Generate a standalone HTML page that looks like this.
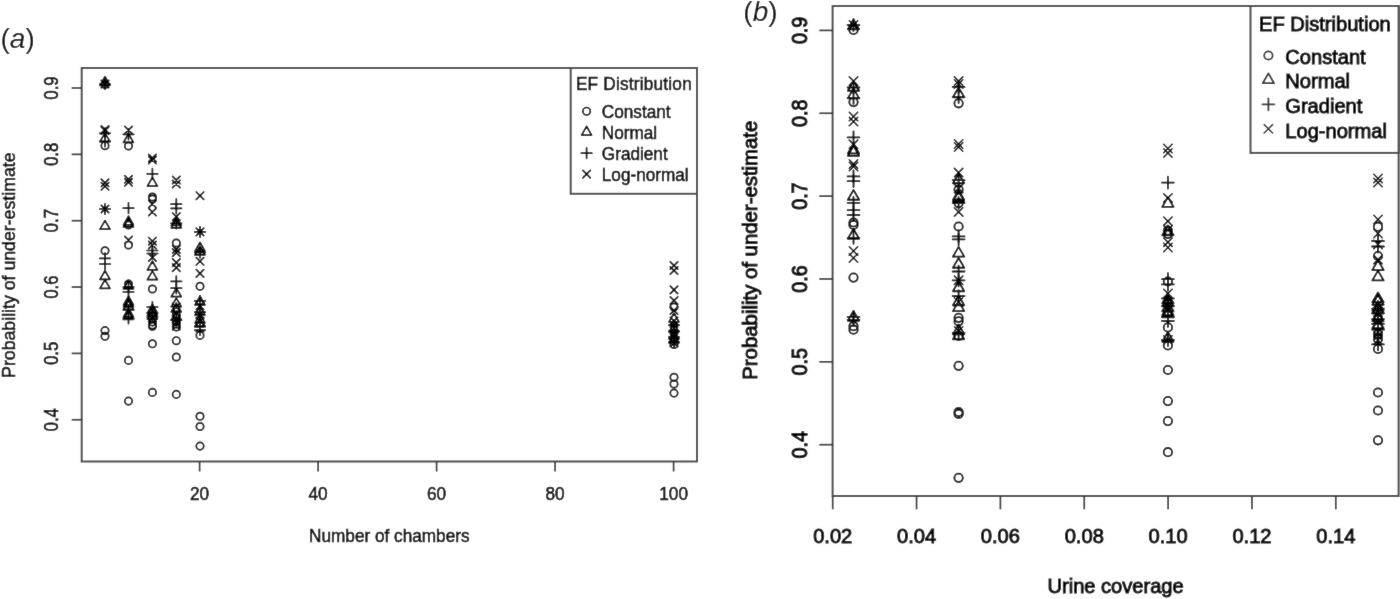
<!DOCTYPE html>
<html><head><meta charset="utf-8"><title>Figure</title>
<style>html,body{margin:0;padding:0;background:#fff;width:1400px;height:599px;overflow:hidden}svg{display:block}text{font-family:"Liberation Sans",sans-serif}</style></head><body>
<svg width="1400" height="599" viewBox="0 0 1400 599">
<defs><filter id="bl" filterUnits="userSpaceOnUse" x="0" y="0" width="1400" height="599"><feConvolveMatrix order="3" kernelMatrix="1 2 1 2 36 2 1 2 1" divisor="48" edgeMode="duplicate"/></filter></defs>
<rect width="1400" height="599" fill="#fff"/>
<g filter="url(#bl)"><rect width="1400" height="599" fill="#fff"/>
<text x="0.5" y="47.7" font-family="Liberation Sans, sans-serif" font-size="28" fill="#000">(<tspan font-style="italic">a</tspan>)</text>
<text x="743.3" y="21.3" font-family="Liberation Sans, sans-serif" font-size="28" fill="#000">(<tspan font-style="italic">b</tspan>)</text>
<rect x="81.7" y="68" width="615.3" height="393.5" fill="none" stroke="#4a4a4a" stroke-width="2.0"/>
<line x1="199.60" y1="461.5" x2="199.60" y2="471.5" stroke="#333" stroke-width="1.7"/>
<line x1="318.10" y1="461.5" x2="318.10" y2="471.5" stroke="#333" stroke-width="1.7"/>
<line x1="436.60" y1="461.5" x2="436.60" y2="471.5" stroke="#333" stroke-width="1.7"/>
<line x1="555.10" y1="461.5" x2="555.10" y2="471.5" stroke="#333" stroke-width="1.7"/>
<line x1="673.60" y1="461.5" x2="673.60" y2="471.5" stroke="#333" stroke-width="1.7"/>
<line x1="71.7" y1="88.00" x2="81.7" y2="88.00" stroke="#333" stroke-width="1.7"/>
<line x1="71.7" y1="154.35" x2="81.7" y2="154.35" stroke="#333" stroke-width="1.7"/>
<line x1="71.7" y1="220.70" x2="81.7" y2="220.70" stroke="#333" stroke-width="1.7"/>
<line x1="71.7" y1="287.05" x2="81.7" y2="287.05" stroke="#333" stroke-width="1.7"/>
<line x1="71.7" y1="353.40" x2="81.7" y2="353.40" stroke="#333" stroke-width="1.7"/>
<line x1="71.7" y1="419.75" x2="81.7" y2="419.75" stroke="#333" stroke-width="1.7"/>
<g font-family="Liberation Sans, sans-serif" font-size="17.2" fill="#000" stroke="#000" stroke-width="0.5"><text transform="translate(199.60 499.50) scale(1 1.03)" text-anchor="middle">20</text>
<text transform="translate(318.10 499.50) scale(1 1.03)" text-anchor="middle">40</text>
<text transform="translate(436.60 499.50) scale(1 1.03)" text-anchor="middle">60</text>
<text transform="translate(555.10 499.50) scale(1 1.03)" text-anchor="middle">80</text>
<text transform="translate(673.60 499.50) scale(1 1.03)" text-anchor="middle">100</text>
<text transform="translate(57.70 88.00) rotate(-90) scale(0.98 1.22)" text-anchor="middle">0.9</text>
<text transform="translate(57.70 154.35) rotate(-90) scale(0.98 1.22)" text-anchor="middle">0.8</text>
<text transform="translate(57.70 220.70) rotate(-90) scale(0.98 1.22)" text-anchor="middle">0.7</text>
<text transform="translate(57.70 287.05) rotate(-90) scale(0.98 1.22)" text-anchor="middle">0.6</text>
<text transform="translate(57.70 353.40) rotate(-90) scale(0.98 1.22)" text-anchor="middle">0.5</text>
<text transform="translate(57.70 419.75) rotate(-90) scale(0.98 1.22)" text-anchor="middle">0.4</text>
<text transform="translate(389.30 542.00) scale(1 1.03)" text-anchor="middle">Number of chambers</text>
<text transform="translate(15.30 265.20) rotate(-90) scale(1.03 1.04)" text-anchor="middle">Probability of under-estimate</text></g>
<rect x="570.7" y="68" width="126.29999999999995" height="125.80000000000001" fill="#fff" stroke="#4a4a4a" stroke-width="2.0"/>
<g font-family="Liberation Sans, sans-serif" font-size="17.2" fill="#000" stroke="#000" stroke-width="0.5"><text textLength="115.8" lengthAdjust="spacing" transform="translate(575.90 89.50) scale(1 1.03)" text-anchor="start">EF Distribution</text>
<text transform="translate(601.80 117.50) scale(1 1.03)" text-anchor="start">Constant</text>
<text transform="translate(601.80 138.70) scale(1 1.03)" text-anchor="start">Normal</text>
<text transform="translate(601.80 159.90) scale(1 1.03)" text-anchor="start">Gradient</text>
<text transform="translate(601.80 181.10) scale(1 1.03)" text-anchor="start">Log-normal</text></g>
<circle cx="586.60" cy="111.20" r="3.70" fill="none" stroke="#000" stroke-width="1.7"/>
<path d="M586.60 126.42L591.58 135.05L581.62 135.05Z" fill="none" stroke="#000" stroke-width="1.7" stroke-linejoin="round"/>
<path d="M581.37 153.14H591.83M586.60 147.91V158.37" stroke="#000" stroke-width="1.7" stroke-linecap="round"/>
<path d="M582.90 170.41L590.30 177.81M582.90 177.81L590.30 170.41" stroke="#000" stroke-width="1.70" stroke-linecap="round"/>
<path d="M101.30 80.30L108.70 87.70M101.30 87.70L108.70 80.30" stroke="#000" stroke-width="1.70" stroke-linecap="round"/>
<path d="M99.77 84.00H110.23M105.00 78.77V89.23" stroke="#000" stroke-width="1.7" stroke-linecap="round"/>
<path d="M105.00 76.75L109.98 85.38L100.02 85.38Z" fill="none" stroke="#000" stroke-width="1.7" stroke-linejoin="round"/>
<circle cx="105.00" cy="84.50" r="3.70" fill="none" stroke="#000" stroke-width="1.7"/>
<path d="M101.30 125.80L108.70 133.20M101.30 133.20L108.70 125.80" stroke="#000" stroke-width="1.70" stroke-linecap="round"/>
<path d="M101.30 126.80L108.70 134.20M101.30 134.20L108.70 126.80" stroke="#000" stroke-width="1.70" stroke-linecap="round"/>
<path d="M99.77 133.30H110.23M105.00 128.07V138.53" stroke="#000" stroke-width="1.7" stroke-linecap="round"/>
<path d="M105.00 133.05L109.98 141.68L100.02 141.68Z" fill="none" stroke="#000" stroke-width="1.7" stroke-linejoin="round"/>
<path d="M99.77 141.30H110.23M105.00 136.07V146.53" stroke="#000" stroke-width="1.7" stroke-linecap="round"/>
<circle cx="105.00" cy="145.70" r="3.70" fill="none" stroke="#000" stroke-width="1.7"/>
<path d="M101.30 179.10L108.70 186.50M101.30 186.50L108.70 179.10" stroke="#000" stroke-width="1.70" stroke-linecap="round"/>
<path d="M101.30 182.60L108.70 190.00M101.30 190.00L108.70 182.60" stroke="#000" stroke-width="1.70" stroke-linecap="round"/>
<path d="M101.30 205.30L108.70 212.70M101.30 212.70L108.70 205.30" stroke="#000" stroke-width="1.70" stroke-linecap="round"/>
<path d="M99.77 209.00H110.23M105.00 203.77V214.23" stroke="#000" stroke-width="1.7" stroke-linecap="round"/>
<path d="M105.00 220.55L109.98 229.18L100.02 229.18Z" fill="none" stroke="#000" stroke-width="1.7" stroke-linejoin="round"/>
<circle cx="105.00" cy="250.80" r="3.70" fill="none" stroke="#000" stroke-width="1.7"/>
<path d="M99.77 258.30H110.23M105.00 253.07V263.53" stroke="#000" stroke-width="1.7" stroke-linecap="round"/>
<path d="M99.77 264.00H110.23M105.00 258.77V269.23" stroke="#000" stroke-width="1.7" stroke-linecap="round"/>
<path d="M105.00 270.75L109.98 279.38L100.02 279.38Z" fill="none" stroke="#000" stroke-width="1.7" stroke-linejoin="round"/>
<path d="M105.00 279.75L109.98 288.38L100.02 288.38Z" fill="none" stroke="#000" stroke-width="1.7" stroke-linejoin="round"/>
<circle cx="105.00" cy="330.60" r="3.70" fill="none" stroke="#000" stroke-width="1.7"/>
<circle cx="105.00" cy="336.30" r="3.70" fill="none" stroke="#000" stroke-width="1.7"/>
<path d="M124.80 126.30L132.20 133.70M124.80 133.70L132.20 126.30" stroke="#000" stroke-width="1.70" stroke-linecap="round"/>
<path d="M123.27 134.30H133.73M128.50 129.07V139.53" stroke="#000" stroke-width="1.7" stroke-linecap="round"/>
<path d="M128.50 133.75L133.48 142.38L123.52 142.38Z" fill="none" stroke="#000" stroke-width="1.7" stroke-linejoin="round"/>
<circle cx="128.50" cy="146.00" r="3.70" fill="none" stroke="#000" stroke-width="1.7"/>
<path d="M124.80 175.60L132.20 183.00M124.80 183.00L132.20 175.60" stroke="#000" stroke-width="1.70" stroke-linecap="round"/>
<path d="M124.80 178.60L132.20 186.00M124.80 186.00L132.20 178.60" stroke="#000" stroke-width="1.70" stroke-linecap="round"/>
<path d="M123.27 208.10H133.73M128.50 202.87V213.33" stroke="#000" stroke-width="1.7" stroke-linecap="round"/>
<path d="M128.50 216.25L133.48 224.88L123.52 224.88Z" fill="none" stroke="#000" stroke-width="1.7" stroke-linejoin="round"/>
<path d="M128.50 218.25L133.48 226.88L123.52 226.88Z" fill="none" stroke="#000" stroke-width="1.7" stroke-linejoin="round"/>
<circle cx="128.50" cy="225.00" r="3.70" fill="none" stroke="#000" stroke-width="1.7"/>
<path d="M124.80 236.30L132.20 243.70M124.80 243.70L132.20 236.30" stroke="#000" stroke-width="1.70" stroke-linecap="round"/>
<circle cx="128.50" cy="245.00" r="3.70" fill="none" stroke="#000" stroke-width="1.7"/>
<circle cx="128.50" cy="284.00" r="3.70" fill="none" stroke="#000" stroke-width="1.7"/>
<path d="M128.50 280.25L133.48 288.88L123.52 288.88Z" fill="none" stroke="#000" stroke-width="1.7" stroke-linejoin="round"/>
<path d="M123.27 287.00H133.73M128.50 281.77V292.23" stroke="#000" stroke-width="1.7" stroke-linecap="round"/>
<path d="M123.27 292.00H133.73M128.50 286.77V297.23" stroke="#000" stroke-width="1.7" stroke-linecap="round"/>
<path d="M128.50 296.25L133.48 304.88L123.52 304.88Z" fill="none" stroke="#000" stroke-width="1.7" stroke-linejoin="round"/>
<path d="M128.50 298.25L133.48 306.88L123.52 306.88Z" fill="none" stroke="#000" stroke-width="1.7" stroke-linejoin="round"/>
<path d="M128.50 300.75L133.48 309.38L123.52 309.38Z" fill="none" stroke="#000" stroke-width="1.7" stroke-linejoin="round"/>
<path d="M123.27 310.00H133.73M128.50 304.77V315.23" stroke="#000" stroke-width="1.7" stroke-linecap="round"/>
<path d="M128.50 308.25L133.48 316.88L123.52 316.88Z" fill="none" stroke="#000" stroke-width="1.7" stroke-linejoin="round"/>
<path d="M128.50 310.75L133.48 319.38L123.52 319.38Z" fill="none" stroke="#000" stroke-width="1.7" stroke-linejoin="round"/>
<path d="M123.27 318.30H133.73M128.50 313.07V323.53" stroke="#000" stroke-width="1.7" stroke-linecap="round"/>
<circle cx="128.50" cy="360.40" r="3.70" fill="none" stroke="#000" stroke-width="1.7"/>
<circle cx="128.50" cy="401.10" r="3.70" fill="none" stroke="#000" stroke-width="1.7"/>
<path d="M148.70 154.30L156.10 161.70M148.70 161.70L156.10 154.30" stroke="#000" stroke-width="1.70" stroke-linecap="round"/>
<path d="M148.70 156.30L156.10 163.70M148.70 163.70L156.10 156.30" stroke="#000" stroke-width="1.70" stroke-linecap="round"/>
<path d="M147.17 173.80H157.63M152.40 168.57V179.03" stroke="#000" stroke-width="1.7" stroke-linecap="round"/>
<path d="M152.40 177.45L157.38 186.08L147.42 186.08Z" fill="none" stroke="#000" stroke-width="1.7" stroke-linejoin="round"/>
<circle cx="152.40" cy="197.00" r="3.70" fill="none" stroke="#000" stroke-width="1.7"/>
<circle cx="152.40" cy="199.00" r="3.70" fill="none" stroke="#000" stroke-width="1.7"/>
<path d="M148.70 200.30L156.10 207.70M148.70 207.70L156.10 200.30" stroke="#000" stroke-width="1.70" stroke-linecap="round"/>
<path d="M148.70 208.30L156.10 215.70M148.70 215.70L156.10 208.30" stroke="#000" stroke-width="1.70" stroke-linecap="round"/>
<path d="M148.70 237.50L156.10 244.90M148.70 244.90L156.10 237.50" stroke="#000" stroke-width="1.70" stroke-linecap="round"/>
<path d="M148.70 241.30L156.10 248.70M148.70 248.70L156.10 241.30" stroke="#000" stroke-width="1.70" stroke-linecap="round"/>
<path d="M147.17 250.50H157.63M152.40 245.27V255.73" stroke="#000" stroke-width="1.7" stroke-linecap="round"/>
<path d="M147.17 253.50H157.63M152.40 248.27V258.73" stroke="#000" stroke-width="1.7" stroke-linecap="round"/>
<path d="M148.70 253.80L156.10 261.20M148.70 261.20L156.10 253.80" stroke="#000" stroke-width="1.70" stroke-linecap="round"/>
<path d="M152.40 261.25L157.38 269.88L147.42 269.88Z" fill="none" stroke="#000" stroke-width="1.7" stroke-linejoin="round"/>
<path d="M152.40 271.05L157.38 279.68L147.42 279.68Z" fill="none" stroke="#000" stroke-width="1.7" stroke-linejoin="round"/>
<circle cx="152.40" cy="289.00" r="3.70" fill="none" stroke="#000" stroke-width="1.7"/>
<path d="M147.17 307.00H157.63M152.40 301.77V312.23" stroke="#000" stroke-width="1.7" stroke-linecap="round"/>
<path d="M152.40 304.25L157.38 312.88L147.42 312.88Z" fill="none" stroke="#000" stroke-width="1.7" stroke-linejoin="round"/>
<path d="M152.40 306.85L157.38 315.48L147.42 315.48Z" fill="none" stroke="#000" stroke-width="1.7" stroke-linejoin="round"/>
<path d="M147.17 313.00H157.63M152.40 307.77V318.23" stroke="#000" stroke-width="1.7" stroke-linecap="round"/>
<path d="M152.40 310.55L157.38 319.18L147.42 319.18Z" fill="none" stroke="#000" stroke-width="1.7" stroke-linejoin="round"/>
<path d="M147.17 317.00H157.63M152.40 311.77V322.23" stroke="#000" stroke-width="1.7" stroke-linecap="round"/>
<path d="M148.70 314.30L156.10 321.70M148.70 321.70L156.10 314.30" stroke="#000" stroke-width="1.70" stroke-linecap="round"/>
<circle cx="152.40" cy="322.00" r="3.70" fill="none" stroke="#000" stroke-width="1.7"/>
<circle cx="152.40" cy="325.00" r="3.70" fill="none" stroke="#000" stroke-width="1.7"/>
<circle cx="152.40" cy="326.30" r="3.70" fill="none" stroke="#000" stroke-width="1.7"/>
<circle cx="152.40" cy="343.80" r="3.70" fill="none" stroke="#000" stroke-width="1.7"/>
<circle cx="152.40" cy="392.40" r="3.70" fill="none" stroke="#000" stroke-width="1.7"/>
<path d="M172.60 176.30L180.00 183.70M172.60 183.70L180.00 176.30" stroke="#000" stroke-width="1.70" stroke-linecap="round"/>
<path d="M172.60 180.30L180.00 187.70M172.60 187.70L180.00 180.30" stroke="#000" stroke-width="1.70" stroke-linecap="round"/>
<path d="M171.07 204.20H181.53M176.30 198.97V209.43" stroke="#000" stroke-width="1.7" stroke-linecap="round"/>
<path d="M171.07 208.30H181.53M176.30 203.07V213.53" stroke="#000" stroke-width="1.7" stroke-linecap="round"/>
<path d="M172.60 213.00L180.00 220.40M172.60 220.40L180.00 213.00" stroke="#000" stroke-width="1.70" stroke-linecap="round"/>
<path d="M176.30 216.75L181.28 225.38L171.32 225.38Z" fill="none" stroke="#000" stroke-width="1.7" stroke-linejoin="round"/>
<path d="M171.07 223.30H181.53M176.30 218.07V228.53" stroke="#000" stroke-width="1.7" stroke-linecap="round"/>
<path d="M176.30 219.25L181.28 227.88L171.32 227.88Z" fill="none" stroke="#000" stroke-width="1.7" stroke-linejoin="round"/>
<circle cx="176.30" cy="243.00" r="3.70" fill="none" stroke="#000" stroke-width="1.7"/>
<path d="M172.60 245.70L180.00 253.10M172.60 253.10L180.00 245.70" stroke="#000" stroke-width="1.70" stroke-linecap="round"/>
<path d="M172.60 248.90L180.00 256.30M172.60 256.30L180.00 248.90" stroke="#000" stroke-width="1.70" stroke-linecap="round"/>
<path d="M172.60 258.90L180.00 266.30M172.60 266.30L180.00 258.90" stroke="#000" stroke-width="1.70" stroke-linecap="round"/>
<path d="M172.60 263.90L180.00 271.30M172.60 271.30L180.00 263.90" stroke="#000" stroke-width="1.70" stroke-linecap="round"/>
<path d="M171.07 281.30H181.53M176.30 276.07V286.53" stroke="#000" stroke-width="1.7" stroke-linecap="round"/>
<path d="M171.07 288.20H181.53M176.30 282.97V293.43" stroke="#000" stroke-width="1.7" stroke-linecap="round"/>
<path d="M176.30 288.05L181.28 296.68L171.32 296.68Z" fill="none" stroke="#000" stroke-width="1.7" stroke-linejoin="round"/>
<path d="M176.30 298.05L181.28 306.68L171.32 306.68Z" fill="none" stroke="#000" stroke-width="1.7" stroke-linejoin="round"/>
<path d="M172.60 303.30L180.00 310.70M172.60 310.70L180.00 303.30" stroke="#000" stroke-width="1.70" stroke-linecap="round"/>
<path d="M176.30 303.25L181.28 311.88L171.32 311.88Z" fill="none" stroke="#000" stroke-width="1.7" stroke-linejoin="round"/>
<path d="M172.60 309.30L180.00 316.70M172.60 316.70L180.00 309.30" stroke="#000" stroke-width="1.70" stroke-linecap="round"/>
<circle cx="176.30" cy="315.00" r="3.70" fill="none" stroke="#000" stroke-width="1.7"/>
<path d="M176.30 311.25L181.28 319.88L171.32 319.88Z" fill="none" stroke="#000" stroke-width="1.7" stroke-linejoin="round"/>
<path d="M172.60 315.30L180.00 322.70M172.60 322.70L180.00 315.30" stroke="#000" stroke-width="1.70" stroke-linecap="round"/>
<path d="M171.07 320.00H181.53M176.30 314.77V325.23" stroke="#000" stroke-width="1.7" stroke-linecap="round"/>
<circle cx="176.30" cy="321.00" r="3.70" fill="none" stroke="#000" stroke-width="1.7"/>
<path d="M172.60 319.30L180.00 326.70M172.60 326.70L180.00 319.30" stroke="#000" stroke-width="1.70" stroke-linecap="round"/>
<circle cx="176.30" cy="324.00" r="3.70" fill="none" stroke="#000" stroke-width="1.7"/>
<path d="M172.60 322.30L180.00 329.70M172.60 329.70L180.00 322.30" stroke="#000" stroke-width="1.70" stroke-linecap="round"/>
<circle cx="176.30" cy="327.00" r="3.70" fill="none" stroke="#000" stroke-width="1.7"/>
<circle cx="176.30" cy="340.70" r="3.70" fill="none" stroke="#000" stroke-width="1.7"/>
<circle cx="176.30" cy="357.00" r="3.70" fill="none" stroke="#000" stroke-width="1.7"/>
<circle cx="176.30" cy="394.40" r="3.70" fill="none" stroke="#000" stroke-width="1.7"/>
<path d="M196.30 192.00L203.70 199.40M196.30 199.40L203.70 192.00" stroke="#000" stroke-width="1.70" stroke-linecap="round"/>
<path d="M196.30 228.20L203.70 235.60M196.30 235.60L203.70 228.20" stroke="#000" stroke-width="1.70" stroke-linecap="round"/>
<path d="M194.77 231.90H205.23M200.00 226.67V237.13" stroke="#000" stroke-width="1.7" stroke-linecap="round"/>
<path d="M200.00 242.45L204.98 251.08L195.02 251.08Z" fill="none" stroke="#000" stroke-width="1.7" stroke-linejoin="round"/>
<path d="M200.00 246.25L204.98 254.88L195.02 254.88Z" fill="none" stroke="#000" stroke-width="1.7" stroke-linejoin="round"/>
<path d="M194.77 252.60H205.23M200.00 247.37V257.83" stroke="#000" stroke-width="1.7" stroke-linecap="round"/>
<path d="M196.30 257.60L203.70 265.00M196.30 265.00L203.70 257.60" stroke="#000" stroke-width="1.70" stroke-linecap="round"/>
<path d="M196.30 269.70L203.70 277.10M196.30 277.10L203.70 269.70" stroke="#000" stroke-width="1.70" stroke-linecap="round"/>
<circle cx="200.00" cy="286.30" r="3.70" fill="none" stroke="#000" stroke-width="1.7"/>
<path d="M194.77 300.80H205.23M200.00 295.57V306.03" stroke="#000" stroke-width="1.7" stroke-linecap="round"/>
<path d="M200.00 296.25L204.98 304.88L195.02 304.88Z" fill="none" stroke="#000" stroke-width="1.7" stroke-linejoin="round"/>
<path d="M196.30 302.10L203.70 309.50M196.30 309.50L203.70 302.10" stroke="#000" stroke-width="1.70" stroke-linecap="round"/>
<path d="M194.77 312.00H205.23M200.00 306.77V317.23" stroke="#000" stroke-width="1.7" stroke-linecap="round"/>
<path d="M200.00 306.25L204.98 314.88L195.02 314.88Z" fill="none" stroke="#000" stroke-width="1.7" stroke-linejoin="round"/>
<path d="M196.30 311.30L203.70 318.70M196.30 318.70L203.70 311.30" stroke="#000" stroke-width="1.70" stroke-linecap="round"/>
<path d="M200.00 314.25L204.98 322.88L195.02 322.88Z" fill="none" stroke="#000" stroke-width="1.7" stroke-linejoin="round"/>
<path d="M196.30 317.30L203.70 324.70M196.30 324.70L203.70 317.30" stroke="#000" stroke-width="1.70" stroke-linecap="round"/>
<path d="M194.77 326.00H205.23M200.00 320.77V331.23" stroke="#000" stroke-width="1.7" stroke-linecap="round"/>
<path d="M196.30 324.30L203.70 331.70M196.30 331.70L203.70 324.30" stroke="#000" stroke-width="1.70" stroke-linecap="round"/>
<path d="M194.77 330.00H205.23M200.00 324.77V335.23" stroke="#000" stroke-width="1.7" stroke-linecap="round"/>
<path d="M200.00 318.25L204.98 326.88L195.02 326.88Z" fill="none" stroke="#000" stroke-width="1.7" stroke-linejoin="round"/>
<circle cx="200.00" cy="335.40" r="3.70" fill="none" stroke="#000" stroke-width="1.7"/>
<circle cx="200.00" cy="416.30" r="3.70" fill="none" stroke="#000" stroke-width="1.7"/>
<circle cx="200.00" cy="426.50" r="3.70" fill="none" stroke="#000" stroke-width="1.7"/>
<circle cx="200.00" cy="446.10" r="3.70" fill="none" stroke="#000" stroke-width="1.7"/>
<path d="M670.30 261.80L677.70 269.20M670.30 269.20L677.70 261.80" stroke="#000" stroke-width="1.70" stroke-linecap="round"/>
<path d="M670.30 266.80L677.70 274.20M670.30 274.20L677.70 266.80" stroke="#000" stroke-width="1.70" stroke-linecap="round"/>
<path d="M670.30 286.20L677.70 293.60M670.30 293.60L677.70 286.20" stroke="#000" stroke-width="1.70" stroke-linecap="round"/>
<path d="M670.30 296.80L677.70 304.20M670.30 304.20L677.70 296.80" stroke="#000" stroke-width="1.70" stroke-linecap="round"/>
<circle cx="674.00" cy="307.00" r="3.70" fill="none" stroke="#000" stroke-width="1.7"/>
<path d="M670.30 306.80L677.70 314.20M670.30 314.20L677.70 306.80" stroke="#000" stroke-width="1.70" stroke-linecap="round"/>
<path d="M674.00 313.25L678.98 321.88L669.02 321.88Z" fill="none" stroke="#000" stroke-width="1.7" stroke-linejoin="round"/>
<path d="M670.30 317.30L677.70 324.70M670.30 324.70L677.70 317.30" stroke="#000" stroke-width="1.70" stroke-linecap="round"/>
<path d="M668.77 325.00H679.23M674.00 319.77V330.23" stroke="#000" stroke-width="1.7" stroke-linecap="round"/>
<circle cx="674.00" cy="326.00" r="3.70" fill="none" stroke="#000" stroke-width="1.7"/>
<path d="M670.30 324.30L677.70 331.70M670.30 331.70L677.70 324.30" stroke="#000" stroke-width="1.70" stroke-linecap="round"/>
<path d="M674.00 323.25L678.98 331.88L669.02 331.88Z" fill="none" stroke="#000" stroke-width="1.7" stroke-linejoin="round"/>
<path d="M668.77 331.00H679.23M674.00 325.77V336.23" stroke="#000" stroke-width="1.7" stroke-linecap="round"/>
<circle cx="674.00" cy="333.00" r="3.70" fill="none" stroke="#000" stroke-width="1.7"/>
<path d="M670.30 331.30L677.70 338.70M670.30 338.70L677.70 331.30" stroke="#000" stroke-width="1.70" stroke-linecap="round"/>
<path d="M674.00 330.25L678.98 338.88L669.02 338.88Z" fill="none" stroke="#000" stroke-width="1.7" stroke-linejoin="round"/>
<path d="M668.77 337.00H679.23M674.00 331.77V342.23" stroke="#000" stroke-width="1.7" stroke-linecap="round"/>
<circle cx="674.00" cy="339.00" r="3.70" fill="none" stroke="#000" stroke-width="1.7"/>
<path d="M674.00 334.25L678.98 342.88L669.02 342.88Z" fill="none" stroke="#000" stroke-width="1.7" stroke-linejoin="round"/>
<path d="M668.77 342.00H679.23M674.00 336.77V347.23" stroke="#000" stroke-width="1.7" stroke-linecap="round"/>
<path d="M670.30 339.30L677.70 346.70M670.30 346.70L677.70 339.30" stroke="#000" stroke-width="1.70" stroke-linecap="round"/>
<circle cx="674.00" cy="344.50" r="3.70" fill="none" stroke="#000" stroke-width="1.7"/>
<circle cx="674.00" cy="377.30" r="3.70" fill="none" stroke="#000" stroke-width="1.7"/>
<circle cx="674.00" cy="384.00" r="3.70" fill="none" stroke="#000" stroke-width="1.7"/>
<circle cx="674.00" cy="393.10" r="3.70" fill="none" stroke="#000" stroke-width="1.7"/>
<rect x="832.6" y="6" width="565.9999999999999" height="490" fill="none" stroke="#4a4a4a" stroke-width="2.0"/>
<line x1="832.70" y1="496" x2="832.70" y2="509.3" stroke="#333" stroke-width="1.7"/>
<line x1="916.55" y1="496" x2="916.55" y2="509.3" stroke="#333" stroke-width="1.7"/>
<line x1="1000.40" y1="496" x2="1000.40" y2="509.3" stroke="#333" stroke-width="1.7"/>
<line x1="1084.25" y1="496" x2="1084.25" y2="509.3" stroke="#333" stroke-width="1.7"/>
<line x1="1168.10" y1="496" x2="1168.10" y2="509.3" stroke="#333" stroke-width="1.7"/>
<line x1="1251.95" y1="496" x2="1251.95" y2="509.3" stroke="#333" stroke-width="1.7"/>
<line x1="1335.80" y1="496" x2="1335.80" y2="509.3" stroke="#333" stroke-width="1.7"/>
<line x1="819.3000000000001" y1="30.40" x2="832.6" y2="30.40" stroke="#333" stroke-width="1.7"/>
<line x1="819.3000000000001" y1="113.26" x2="832.6" y2="113.26" stroke="#333" stroke-width="1.7"/>
<line x1="819.3000000000001" y1="196.12" x2="832.6" y2="196.12" stroke="#333" stroke-width="1.7"/>
<line x1="819.3000000000001" y1="278.98" x2="832.6" y2="278.98" stroke="#333" stroke-width="1.7"/>
<line x1="819.3000000000001" y1="361.84" x2="832.6" y2="361.84" stroke="#333" stroke-width="1.7"/>
<line x1="819.3000000000001" y1="444.70" x2="832.6" y2="444.70" stroke="#333" stroke-width="1.7"/>
<g font-family="Liberation Sans, sans-serif" font-size="20.1" fill="#000" stroke="#000" stroke-width="1.0"><text transform="translate(832.70 543.20) scale(1 1.03)" text-anchor="middle">0.02</text>
<text transform="translate(916.55 543.20) scale(1 1.03)" text-anchor="middle">0.04</text>
<text transform="translate(1000.40 543.20) scale(1 1.03)" text-anchor="middle">0.06</text>
<text transform="translate(1084.25 543.20) scale(1 1.03)" text-anchor="middle">0.08</text>
<text transform="translate(1168.10 543.20) scale(1 1.03)" text-anchor="middle">0.10</text>
<text transform="translate(1251.95 543.20) scale(1 1.03)" text-anchor="middle">0.12</text>
<text transform="translate(1335.80 543.20) scale(1 1.03)" text-anchor="middle">0.14</text>
<text transform="translate(806.90 30.40) rotate(-90) scale(0.98 1.12)" text-anchor="middle">0.9</text>
<text transform="translate(806.90 113.26) rotate(-90) scale(0.98 1.12)" text-anchor="middle">0.8</text>
<text transform="translate(806.90 196.12) rotate(-90) scale(0.98 1.12)" text-anchor="middle">0.7</text>
<text transform="translate(806.90 278.98) rotate(-90) scale(0.98 1.12)" text-anchor="middle">0.6</text>
<text transform="translate(806.90 361.84) rotate(-90) scale(0.98 1.12)" text-anchor="middle">0.5</text>
<text transform="translate(806.90 444.70) rotate(-90) scale(0.98 1.12)" text-anchor="middle">0.4</text>
<text transform="translate(1115.60 592.80) scale(1 1.03)" text-anchor="middle">Urine coverage</text>
<text transform="translate(756.60 250.20) rotate(-90) scale(1.013 1.04)" text-anchor="middle">Probability of under-estimate</text></g>
<rect x="1250.5" y="6" width="148.0999999999999" height="146.9" fill="#fff" stroke="#4a4a4a" stroke-width="2.0"/>
<g font-family="Liberation Sans, sans-serif" font-size="20.1" fill="#000" stroke="#000" stroke-width="1.0"><text transform="translate(1259.00 30.80) scale(1 1.03)" text-anchor="start">EF Distribution</text>
<text transform="translate(1285.30 63.80) scale(1 1.03)" text-anchor="start">Constant</text>
<text transform="translate(1285.30 88.40) scale(1 1.03)" text-anchor="start">Normal</text>
<text transform="translate(1285.30 113.00) scale(1 1.03)" text-anchor="start">Gradient</text>
<text transform="translate(1285.30 137.60) scale(1 1.03)" text-anchor="start">Log-normal</text></g>
<circle cx="1268.40" cy="55.50" r="4.20" fill="none" stroke="#333" stroke-width="1.8"/>
<path d="M1268.40 73.40L1274.06 83.20L1262.74 83.20Z" fill="none" stroke="#333" stroke-width="1.8" stroke-linejoin="round"/>
<path d="M1262.46 104.36H1274.34M1268.40 98.42V110.30" stroke="#333" stroke-width="1.8" stroke-linecap="round"/>
<path d="M1264.20 124.59L1272.60 132.99M1264.20 132.99L1272.60 124.59" stroke="#333" stroke-width="1.53" stroke-linecap="round"/>
<path d="M849.30 20.80L857.70 29.20M849.30 29.20L857.70 20.80" stroke="#000" stroke-width="1.53" stroke-linecap="round"/>
<path d="M847.56 25.00H859.44M853.50 19.06V30.94" stroke="#000" stroke-width="1.8" stroke-linecap="round"/>
<path d="M853.50 19.47L859.16 29.27L847.84 29.27Z" fill="none" stroke="#000" stroke-width="1.8" stroke-linejoin="round"/>
<circle cx="853.50" cy="30.00" r="4.20" fill="none" stroke="#000" stroke-width="1.8"/>
<path d="M849.30 76.90L857.70 85.30M849.30 85.30L857.70 76.90" stroke="#000" stroke-width="1.53" stroke-linecap="round"/>
<path d="M853.50 80.97L859.16 90.77L847.84 90.77Z" fill="none" stroke="#000" stroke-width="1.8" stroke-linejoin="round"/>
<path d="M847.56 87.50H859.44M853.50 81.56V93.44" stroke="#000" stroke-width="1.8" stroke-linecap="round"/>
<path d="M853.50 88.57L859.16 98.37L847.84 98.37Z" fill="none" stroke="#000" stroke-width="1.8" stroke-linejoin="round"/>
<path d="M847.56 98.00H859.44M853.50 92.06V103.94" stroke="#000" stroke-width="1.8" stroke-linecap="round"/>
<circle cx="853.50" cy="102.10" r="4.20" fill="none" stroke="#000" stroke-width="1.8"/>
<path d="M849.30 112.30L857.70 120.70M849.30 120.70L857.70 112.30" stroke="#000" stroke-width="1.53" stroke-linecap="round"/>
<path d="M849.30 117.30L857.70 125.70M849.30 125.70L857.70 117.30" stroke="#000" stroke-width="1.53" stroke-linecap="round"/>
<path d="M847.56 137.30H859.44M853.50 131.36V143.24" stroke="#000" stroke-width="1.8" stroke-linecap="round"/>
<path d="M849.30 140.10L857.70 148.50M849.30 148.50L857.70 140.10" stroke="#000" stroke-width="1.53" stroke-linecap="round"/>
<path d="M853.50 143.57L859.16 153.37L847.84 153.37Z" fill="none" stroke="#000" stroke-width="1.8" stroke-linejoin="round"/>
<path d="M853.50 145.97L859.16 155.77L847.84 155.77Z" fill="none" stroke="#000" stroke-width="1.8" stroke-linejoin="round"/>
<path d="M849.30 159.80L857.70 168.20M849.30 168.20L857.70 159.80" stroke="#000" stroke-width="1.53" stroke-linecap="round"/>
<path d="M849.30 162.30L857.70 170.70M849.30 170.70L857.70 162.30" stroke="#000" stroke-width="1.53" stroke-linecap="round"/>
<path d="M847.56 176.40H859.44M853.50 170.46V182.34" stroke="#000" stroke-width="1.8" stroke-linecap="round"/>
<path d="M847.56 181.10H859.44M853.50 175.16V187.04" stroke="#000" stroke-width="1.8" stroke-linecap="round"/>
<path d="M853.50 189.97L859.16 199.77L847.84 199.77Z" fill="none" stroke="#000" stroke-width="1.8" stroke-linejoin="round"/>
<path d="M847.56 202.80H859.44M853.50 196.86V208.74" stroke="#000" stroke-width="1.8" stroke-linecap="round"/>
<path d="M847.56 210.10H859.44M853.50 204.16V216.04" stroke="#000" stroke-width="1.8" stroke-linecap="round"/>
<path d="M847.56 215.00H859.44M853.50 209.06V220.94" stroke="#000" stroke-width="1.8" stroke-linecap="round"/>
<circle cx="853.50" cy="222.50" r="4.20" fill="none" stroke="#000" stroke-width="1.8"/>
<circle cx="853.50" cy="225.00" r="4.20" fill="none" stroke="#000" stroke-width="1.8"/>
<path d="M853.50 228.97L859.16 238.77L847.84 238.77Z" fill="none" stroke="#000" stroke-width="1.8" stroke-linejoin="round"/>
<path d="M847.56 237.80H859.44M853.50 231.86V243.74" stroke="#000" stroke-width="1.8" stroke-linecap="round"/>
<path d="M849.30 246.80L857.70 255.20M849.30 255.20L857.70 246.80" stroke="#000" stroke-width="1.53" stroke-linecap="round"/>
<path d="M849.30 253.80L857.70 262.20M849.30 262.20L857.70 253.80" stroke="#000" stroke-width="1.53" stroke-linecap="round"/>
<circle cx="853.50" cy="277.60" r="4.20" fill="none" stroke="#000" stroke-width="1.8"/>
<path d="M853.50 310.97L859.16 320.77L847.84 320.77Z" fill="none" stroke="#000" stroke-width="1.8" stroke-linejoin="round"/>
<path d="M847.56 316.90H859.44M853.50 310.96V322.84" stroke="#000" stroke-width="1.8" stroke-linecap="round"/>
<path d="M847.56 319.80H859.44M853.50 313.86V325.74" stroke="#000" stroke-width="1.8" stroke-linecap="round"/>
<circle cx="853.50" cy="326.20" r="4.20" fill="none" stroke="#000" stroke-width="1.8"/>
<circle cx="853.50" cy="329.70" r="4.20" fill="none" stroke="#000" stroke-width="1.8"/>
<path d="M954.40 76.90L962.80 85.30M954.40 85.30L962.80 76.90" stroke="#000" stroke-width="1.53" stroke-linecap="round"/>
<path d="M954.40 79.80L962.80 88.20M954.40 88.20L962.80 79.80" stroke="#000" stroke-width="1.53" stroke-linecap="round"/>
<path d="M952.66 86.90H964.54M958.60 80.96V92.84" stroke="#000" stroke-width="1.8" stroke-linecap="round"/>
<path d="M958.60 87.47L964.26 97.27L952.94 97.27Z" fill="none" stroke="#000" stroke-width="1.8" stroke-linejoin="round"/>
<path d="M952.66 97.10H964.54M958.60 91.16V103.04" stroke="#000" stroke-width="1.8" stroke-linecap="round"/>
<circle cx="958.60" cy="103.30" r="4.20" fill="none" stroke="#000" stroke-width="1.8"/>
<path d="M954.40 139.80L962.80 148.20M954.40 148.20L962.80 139.80" stroke="#000" stroke-width="1.53" stroke-linecap="round"/>
<path d="M954.40 142.80L962.80 151.20M954.40 151.20L962.80 142.80" stroke="#000" stroke-width="1.53" stroke-linecap="round"/>
<path d="M954.40 168.40L962.80 176.80M954.40 176.80L962.80 168.40" stroke="#000" stroke-width="1.53" stroke-linecap="round"/>
<path d="M952.66 180.20H964.54M958.60 174.26V186.14" stroke="#000" stroke-width="1.8" stroke-linecap="round"/>
<path d="M958.60 173.47L964.26 183.27L952.94 183.27Z" fill="none" stroke="#000" stroke-width="1.8" stroke-linejoin="round"/>
<path d="M954.40 184.20L962.80 192.60M954.40 192.60L962.80 184.20" stroke="#000" stroke-width="1.53" stroke-linecap="round"/>
<circle cx="958.60" cy="189.60" r="4.20" fill="none" stroke="#000" stroke-width="1.8"/>
<path d="M958.60 190.07L964.26 199.87L952.94 199.87Z" fill="none" stroke="#000" stroke-width="1.8" stroke-linejoin="round"/>
<path d="M958.60 191.47L964.26 201.27L952.94 201.27Z" fill="none" stroke="#000" stroke-width="1.8" stroke-linejoin="round"/>
<circle cx="958.60" cy="203.10" r="4.20" fill="none" stroke="#000" stroke-width="1.8"/>
<path d="M952.66 203.00H964.54M958.60 197.06V208.94" stroke="#000" stroke-width="1.8" stroke-linecap="round"/>
<path d="M954.40 207.70L962.80 216.10M954.40 216.10L962.80 207.70" stroke="#000" stroke-width="1.53" stroke-linecap="round"/>
<circle cx="958.60" cy="226.50" r="4.20" fill="none" stroke="#000" stroke-width="1.8"/>
<path d="M952.66 236.40H964.54M958.60 230.46V242.34" stroke="#000" stroke-width="1.8" stroke-linecap="round"/>
<path d="M952.66 239.30H964.54M958.60 233.36V245.24" stroke="#000" stroke-width="1.8" stroke-linecap="round"/>
<path d="M958.60 246.87L964.26 256.67L952.94 256.67Z" fill="none" stroke="#000" stroke-width="1.8" stroke-linejoin="round"/>
<path d="M958.60 257.97L964.26 267.77L952.94 267.77Z" fill="none" stroke="#000" stroke-width="1.8" stroke-linejoin="round"/>
<path d="M952.66 271.50H964.54M958.60 265.56V277.44" stroke="#000" stroke-width="1.8" stroke-linecap="round"/>
<path d="M954.40 276.10L962.80 284.50M954.40 284.50L962.80 276.10" stroke="#000" stroke-width="1.53" stroke-linecap="round"/>
<path d="M952.66 280.30H964.54M958.60 274.36V286.24" stroke="#000" stroke-width="1.8" stroke-linecap="round"/>
<path d="M958.60 281.47L964.26 291.27L952.94 291.27Z" fill="none" stroke="#000" stroke-width="1.8" stroke-linejoin="round"/>
<path d="M952.66 296.00H964.54M958.60 290.06V301.94" stroke="#000" stroke-width="1.8" stroke-linecap="round"/>
<path d="M958.60 295.47L964.26 305.27L952.94 305.27Z" fill="none" stroke="#000" stroke-width="1.8" stroke-linejoin="round"/>
<path d="M954.40 297.80L962.80 306.20M954.40 306.20L962.80 297.80" stroke="#000" stroke-width="1.53" stroke-linecap="round"/>
<path d="M958.60 301.37L964.26 311.17L952.94 311.17Z" fill="none" stroke="#000" stroke-width="1.8" stroke-linejoin="round"/>
<circle cx="958.60" cy="317.80" r="4.20" fill="none" stroke="#000" stroke-width="1.8"/>
<circle cx="958.60" cy="321.30" r="4.20" fill="none" stroke="#000" stroke-width="1.8"/>
<path d="M954.40 326.80L962.80 335.20M954.40 335.20L962.80 326.80" stroke="#000" stroke-width="1.53" stroke-linecap="round"/>
<path d="M958.60 324.47L964.26 334.27L952.94 334.27Z" fill="none" stroke="#000" stroke-width="1.8" stroke-linejoin="round"/>
<path d="M952.66 333.00H964.54M958.60 327.06V338.94" stroke="#000" stroke-width="1.8" stroke-linecap="round"/>
<path d="M958.60 329.47L964.26 339.27L952.94 339.27Z" fill="none" stroke="#000" stroke-width="1.8" stroke-linejoin="round"/>
<circle cx="958.60" cy="336.00" r="4.20" fill="none" stroke="#000" stroke-width="1.8"/>
<circle cx="958.60" cy="365.80" r="4.20" fill="none" stroke="#000" stroke-width="1.8"/>
<circle cx="958.60" cy="412.00" r="4.20" fill="none" stroke="#000" stroke-width="1.8"/>
<circle cx="958.60" cy="414.00" r="4.20" fill="none" stroke="#000" stroke-width="1.8"/>
<circle cx="958.60" cy="477.80" r="4.20" fill="none" stroke="#000" stroke-width="1.8"/>
<path d="M1163.70 144.30L1172.10 152.70M1163.70 152.70L1172.10 144.30" stroke="#000" stroke-width="1.53" stroke-linecap="round"/>
<path d="M1163.70 148.80L1172.10 157.20M1163.70 157.20L1172.10 148.80" stroke="#000" stroke-width="1.53" stroke-linecap="round"/>
<path d="M1161.96 182.60H1173.84M1167.90 176.66V188.54" stroke="#000" stroke-width="1.8" stroke-linecap="round"/>
<path d="M1163.70 193.70L1172.10 202.10M1163.70 202.10L1172.10 193.70" stroke="#000" stroke-width="1.53" stroke-linecap="round"/>
<path d="M1167.90 197.17L1173.56 206.97L1162.24 206.97Z" fill="none" stroke="#000" stroke-width="1.8" stroke-linejoin="round"/>
<path d="M1163.70 217.00L1172.10 225.40M1163.70 225.40L1172.10 217.00" stroke="#000" stroke-width="1.53" stroke-linecap="round"/>
<circle cx="1167.90" cy="230.60" r="4.20" fill="none" stroke="#000" stroke-width="1.8"/>
<circle cx="1167.90" cy="234.00" r="4.20" fill="none" stroke="#000" stroke-width="1.8"/>
<path d="M1167.90 225.47L1173.56 235.27L1162.24 235.27Z" fill="none" stroke="#000" stroke-width="1.8" stroke-linejoin="round"/>
<path d="M1163.70 225.80L1172.10 234.20M1163.70 234.20L1172.10 225.80" stroke="#000" stroke-width="1.53" stroke-linecap="round"/>
<path d="M1163.70 238.00L1172.10 246.40M1163.70 246.40L1172.10 238.00" stroke="#000" stroke-width="1.53" stroke-linecap="round"/>
<path d="M1163.70 243.30L1172.10 251.70M1163.70 251.70L1172.10 243.30" stroke="#000" stroke-width="1.53" stroke-linecap="round"/>
<path d="M1161.96 279.10H1173.84M1167.90 273.16V285.04" stroke="#000" stroke-width="1.8" stroke-linecap="round"/>
<circle cx="1167.90" cy="281.50" r="4.20" fill="none" stroke="#000" stroke-width="1.8"/>
<path d="M1161.96 284.40H1173.84M1167.90 278.46V290.34" stroke="#000" stroke-width="1.8" stroke-linecap="round"/>
<path d="M1163.70 289.20L1172.10 297.60M1163.70 297.60L1172.10 289.20" stroke="#000" stroke-width="1.53" stroke-linecap="round"/>
<path d="M1161.96 298.40H1173.84M1167.90 292.46V304.34" stroke="#000" stroke-width="1.8" stroke-linecap="round"/>
<path d="M1167.90 293.47L1173.56 303.27L1162.24 303.27Z" fill="none" stroke="#000" stroke-width="1.8" stroke-linejoin="round"/>
<path d="M1163.70 297.80L1172.10 306.20M1163.70 306.20L1172.10 297.80" stroke="#000" stroke-width="1.53" stroke-linecap="round"/>
<path d="M1167.90 296.47L1173.56 306.27L1162.24 306.27Z" fill="none" stroke="#000" stroke-width="1.8" stroke-linejoin="round"/>
<path d="M1161.96 306.00H1173.84M1167.90 300.06V311.94" stroke="#000" stroke-width="1.8" stroke-linecap="round"/>
<path d="M1167.90 301.47L1173.56 311.27L1162.24 311.27Z" fill="none" stroke="#000" stroke-width="1.8" stroke-linejoin="round"/>
<path d="M1163.70 305.80L1172.10 314.20M1163.70 314.20L1172.10 305.80" stroke="#000" stroke-width="1.53" stroke-linecap="round"/>
<path d="M1167.90 305.47L1173.56 315.27L1162.24 315.27Z" fill="none" stroke="#000" stroke-width="1.8" stroke-linejoin="round"/>
<path d="M1167.90 307.47L1173.56 317.27L1162.24 317.27Z" fill="none" stroke="#000" stroke-width="1.8" stroke-linejoin="round"/>
<path d="M1161.96 316.80H1173.84M1167.90 310.86V322.74" stroke="#000" stroke-width="1.8" stroke-linecap="round"/>
<path d="M1161.96 321.00H1173.84M1167.90 315.06V326.94" stroke="#000" stroke-width="1.8" stroke-linecap="round"/>
<circle cx="1167.90" cy="327.40" r="4.20" fill="none" stroke="#000" stroke-width="1.8"/>
<path d="M1167.90 331.97L1173.56 341.77L1162.24 341.77Z" fill="none" stroke="#000" stroke-width="1.8" stroke-linejoin="round"/>
<path d="M1161.96 340.00H1173.84M1167.90 334.06V345.94" stroke="#000" stroke-width="1.8" stroke-linecap="round"/>
<path d="M1163.70 335.80L1172.10 344.20M1163.70 344.20L1172.10 335.80" stroke="#000" stroke-width="1.53" stroke-linecap="round"/>
<circle cx="1167.90" cy="345.50" r="4.20" fill="none" stroke="#000" stroke-width="1.8"/>
<circle cx="1167.90" cy="370.00" r="4.20" fill="none" stroke="#000" stroke-width="1.8"/>
<circle cx="1167.90" cy="401.10" r="4.20" fill="none" stroke="#000" stroke-width="1.8"/>
<circle cx="1167.90" cy="421.10" r="4.20" fill="none" stroke="#000" stroke-width="1.8"/>
<circle cx="1167.90" cy="452.20" r="4.20" fill="none" stroke="#000" stroke-width="1.8"/>
<path d="M1373.80 174.30L1382.20 182.70M1373.80 182.70L1382.20 174.30" stroke="#000" stroke-width="1.53" stroke-linecap="round"/>
<path d="M1373.80 178.30L1382.20 186.70M1373.80 186.70L1382.20 178.30" stroke="#000" stroke-width="1.53" stroke-linecap="round"/>
<path d="M1373.80 215.30L1382.20 223.70M1373.80 223.70L1382.20 215.30" stroke="#000" stroke-width="1.53" stroke-linecap="round"/>
<circle cx="1378.00" cy="226.70" r="4.20" fill="none" stroke="#000" stroke-width="1.8"/>
<path d="M1373.80 229.30L1382.20 237.70M1373.80 237.70L1382.20 229.30" stroke="#000" stroke-width="1.53" stroke-linecap="round"/>
<path d="M1372.06 241.00H1383.94M1378.00 235.06V246.94" stroke="#000" stroke-width="1.8" stroke-linecap="round"/>
<path d="M1373.80 240.30L1382.20 248.70M1373.80 248.70L1382.20 240.30" stroke="#000" stroke-width="1.53" stroke-linecap="round"/>
<path d="M1372.06 246.50H1383.94M1378.00 240.56V252.44" stroke="#000" stroke-width="1.8" stroke-linecap="round"/>
<circle cx="1378.00" cy="256.00" r="4.20" fill="none" stroke="#000" stroke-width="1.8"/>
<path d="M1373.80 255.30L1382.20 263.70M1373.80 263.70L1382.20 255.30" stroke="#000" stroke-width="1.53" stroke-linecap="round"/>
<path d="M1378.00 260.27L1383.66 270.07L1372.34 270.07Z" fill="none" stroke="#000" stroke-width="1.8" stroke-linejoin="round"/>
<path d="M1378.00 270.67L1383.66 280.47L1372.34 280.47Z" fill="none" stroke="#000" stroke-width="1.8" stroke-linejoin="round"/>
<path d="M1378.00 292.47L1383.66 302.27L1372.34 302.27Z" fill="none" stroke="#000" stroke-width="1.8" stroke-linejoin="round"/>
<path d="M1378.00 294.97L1383.66 304.77L1372.34 304.77Z" fill="none" stroke="#000" stroke-width="1.8" stroke-linejoin="round"/>
<path d="M1378.00 300.97L1383.66 310.77L1372.34 310.77Z" fill="none" stroke="#000" stroke-width="1.8" stroke-linejoin="round"/>
<path d="M1372.06 308.70H1383.94M1378.00 302.76V314.64" stroke="#000" stroke-width="1.8" stroke-linecap="round"/>
<path d="M1378.00 303.47L1383.66 313.27L1372.34 313.27Z" fill="none" stroke="#000" stroke-width="1.8" stroke-linejoin="round"/>
<path d="M1373.80 307.80L1382.20 316.20M1373.80 316.20L1382.20 307.80" stroke="#000" stroke-width="1.53" stroke-linecap="round"/>
<path d="M1372.06 313.30H1383.94M1378.00 307.36V319.24" stroke="#000" stroke-width="1.8" stroke-linecap="round"/>
<path d="M1378.00 311.47L1383.66 321.27L1372.34 321.27Z" fill="none" stroke="#000" stroke-width="1.8" stroke-linejoin="round"/>
<path d="M1372.06 319.20H1383.94M1378.00 313.26V325.14" stroke="#000" stroke-width="1.8" stroke-linecap="round"/>
<circle cx="1378.00" cy="320.00" r="4.20" fill="none" stroke="#000" stroke-width="1.8"/>
<path d="M1373.80 317.80L1382.20 326.20M1373.80 326.20L1382.20 317.80" stroke="#000" stroke-width="1.53" stroke-linecap="round"/>
<path d="M1372.06 323.80H1383.94M1378.00 317.86V329.74" stroke="#000" stroke-width="1.8" stroke-linecap="round"/>
<path d="M1378.00 318.47L1383.66 328.27L1372.34 328.27Z" fill="none" stroke="#000" stroke-width="1.8" stroke-linejoin="round"/>
<path d="M1372.06 329.70H1383.94M1378.00 323.76V335.64" stroke="#000" stroke-width="1.8" stroke-linecap="round"/>
<path d="M1373.80 327.80L1382.20 336.20M1373.80 336.20L1382.20 327.80" stroke="#000" stroke-width="1.53" stroke-linecap="round"/>
<circle cx="1378.00" cy="334.00" r="4.20" fill="none" stroke="#000" stroke-width="1.8"/>
<path d="M1373.80 331.80L1382.20 340.20M1373.80 340.20L1382.20 331.80" stroke="#000" stroke-width="1.53" stroke-linecap="round"/>
<circle cx="1378.00" cy="339.00" r="4.20" fill="none" stroke="#000" stroke-width="1.8"/>
<path d="M1373.80 335.80L1382.20 344.20M1373.80 344.20L1382.20 335.80" stroke="#000" stroke-width="1.53" stroke-linecap="round"/>
<path d="M1372.06 344.30H1383.94M1378.00 338.36V350.24" stroke="#000" stroke-width="1.8" stroke-linecap="round"/>
<circle cx="1378.00" cy="349.00" r="4.20" fill="none" stroke="#000" stroke-width="1.8"/>
<circle cx="1378.00" cy="392.50" r="4.20" fill="none" stroke="#000" stroke-width="1.8"/>
<circle cx="1378.00" cy="410.50" r="4.20" fill="none" stroke="#000" stroke-width="1.8"/>
<circle cx="1378.00" cy="440.30" r="4.20" fill="none" stroke="#000" stroke-width="1.8"/>
</g></svg>
</body></html>
